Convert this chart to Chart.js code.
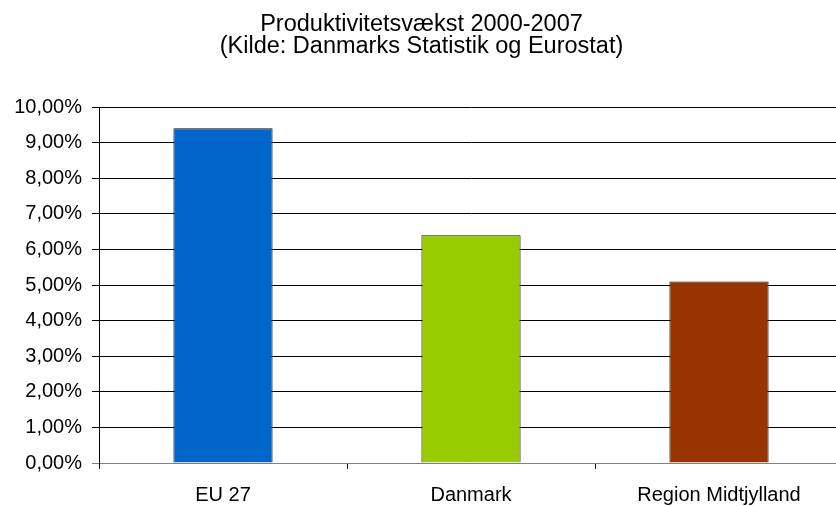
<!DOCTYPE html>
<html>
<head>
<meta charset="utf-8">
<script src="https://cdn.jsdelivr.net/npm/chart.js@4"></script>
<style>
  html, body { margin: 0; padding: 0; background: #fff; overflow: hidden; width: 836px; height: 506px; }
  canvas { display: block; }
</style>
</head>
<body>
<canvas id="c" width="852" height="506"></canvas>
<script>
const titleLines = ['Produktivitetsvækst 2000-2007', '(Kilde: Danmarks Statistik og Eurostat)'];
const categories = ['EU 27', 'Danmark', 'Region Midtjylland'];
const growth = [0.094, 0.064, 0.051];
const barColors = ['#0066CC', '#99CC00', '#993300'];
const yMin = 0, yMax = 0.10, yStep = 0.01;

const FONT = '"Liberation Sans", Arial, sans-serif';

new Chart(document.getElementById('c'), {
  type: 'bar',
  data: {
    labels: categories,
    datasets: [{
      data: growth,
      backgroundColor: barColors,
      borderColor: '#111',
      borderWidth: 1,
      barPercentage: 0.4,
      categoryPercentage: 1.0
    }]
  },
  options: {
    responsive: false,
    animation: false,
    devicePixelRatio: 1,
    layout: { padding: { left: 0, right: 9, top: 0, bottom: 0 } },
    plugins: {
      legend: { display: false },
      tooltip: { enabled: false },
      title: {
        display: true,
        text: titleLines,
        color: '#000',
        font: { family: FONT, size: 23.5, weight: 'normal', lineHeight: 22/23.5 },
        padding: { top: 14, bottom: 49 }
      }
    },
    scales: {
      x: {
        grid: { offset: true, drawOnChartArea: false, drawTicks: true, tickLength: 6, color: '#000' },
        border: { color: '#808080', width: 1 },
        ticks: { color: '#000', font: { family: FONT, size: 20 }, padding: 14, maxRotation: 0, autoSkip: false },
        afterFit: s => { s.height = 43; }
      },
      y: {
        min: yMin, max: yMax,
        grid: {
          color: ctx => (ctx.tick && ctx.tick.value === 0) ? '#808080' : '#000',
          lineWidth: 1, tickLength: 7
        },
        border: { color: '#000', width: 1 },
        ticks: {
          stepSize: yStep,
          color: '#000',
          font: { family: FONT, size: 20 },
          padding: 10,
          callback: v => (v * 100).toFixed(2).replace('.', ',') + '%'
        },
        afterFit: s => { s.width = 99; }
      }
    }
  }
});
</script>
</body>
</html>
